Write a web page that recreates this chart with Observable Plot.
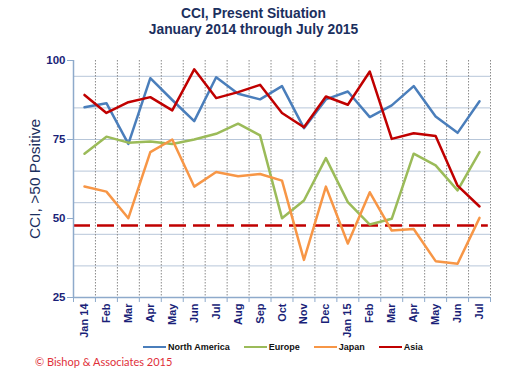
<!DOCTYPE html>
<html><head><meta charset="utf-8">
<script src="https://cdn.jsdelivr.net/npm/d3@7"></script>
<script src="https://cdn.jsdelivr.net/npm/@observablehq/plot@0.6"></script>
<style>
body{margin:0;background:#fff;width:507px;height:370px;overflow:hidden;font-family:"Liberation Sans",Arial,sans-serif}
#title{height:42px;text-align:center;color:#1b2f5e;font-weight:bold;font-size:13.8px;line-height:16px;padding-top:6px;box-sizing:border-box}
#chart svg{display:block}
#legend{height:14px;padding-left:143px;display:flex;justify-content:flex-start;align-items:center;gap:14px;font-weight:bold;font-size:9px;color:#111}
#legend .it{display:flex;align-items:center;gap:2px}
#legend .sw{display:inline-block;width:23px;height:2.5px}
#caption{height:16px;padding-left:35px;color:#e0303a;font-family:Lato,sans-serif;font-size:11px;line-height:16px}
</style></head>
<body>
<div id="title">CCI, Present Situation<br>January 2014 through July 2015</div>
<div id="chart"></div>
<div id="legend"></div>
<div id="caption">© Bishop &amp; Associates 2015</div>
<script>
const months = ["Jan 14","Feb","Mar","Apr","May","Jun","Jul","Aug","Sep","Oct","Nov","Dec","Jan 15","Feb","Mar","Apr","May","Jun","Jul"];
const seriesNames = ["North America","Europe","Japan","Asia"];
const seriesColors = ["#4a7ebb","#9bbb59","#f79646","#c00000"];
const northAmerica = [85.2,86.5,73.6,94.4,87.5,80.8,94.7,89.5,87.7,91.9,78.6,87.7,90.2,82.1,85.8,91.9,82.3,77.1,87.1];
const europe = [70.5,75.9,74.0,74.4,73.6,75.0,76.8,80.0,76.3,50.1,55.7,69.1,55.2,48.1,49.9,70.5,66.8,58.9,71.0];
const japan = [60.1,58.5,50.1,71.0,75.0,60.1,64.7,63.4,64.1,62.0,36.9,60.1,42.1,58.3,46.2,46.7,36.5,35.7,50.2];
const asia = [89.1,83.4,86.8,88.4,84.2,97.2,88.1,90.0,92.3,83.4,78.9,88.6,86.0,96.5,75.2,77.0,76.1,60.4,53.8];
const threshold = 47.8;
const yTicks = [25,50,75,100];
const yGrid = [35,45,55,65,75,85,95];
const yTitle = "CCI, >50 Positive";

const seriesValues = [northAmerica, europe, japan, asia];
const rows = [];
seriesNames.forEach((name, k) => seriesValues[k].forEach((v, i) => rows.push({name, i, v})));
const n = months.length;
const boundaries = d3.range(0.5, n, 1);
const axisCol = "#8eaacb";
const textCol = "#1a1f78";

const chart = Plot.plot({
  width: 507, height: 298,
  marginLeft: 73, marginRight: 17, marginTop: 18, marginBottom: 43,
  x: {type: "linear", domain: [-0.5, n - 0.5]},
  y: {domain: [25, 100]},
  color: {domain: seriesNames, range: seriesColors},
  style: {fontFamily: "'Liberation Sans', Arial, sans-serif", background: "white", overflow: "visible"},
  marks: [
    Plot.ruleY(yGrid, {stroke: "#b7c6d9", strokeWidth: 1}),
    Plot.ruleX(boundaries, {stroke: "#8a8a8a", strokeWidth: 1, strokeDasharray: "1.5,1.5"}),
    Plot.ruleY([threshold], {x1: -0.5, x2: n - 0.6, stroke: "#c00000", strokeWidth: 2.5, strokeDasharray: "17,7"}),
    Plot.lineY(rows, {x: "i", y: "v", z: "name", stroke: "name", strokeWidth: 2.5, strokeLinejoin: "round"}),
    Plot.ruleX([-0.5], {stroke: axisCol, strokeWidth: 1.5}),
    Plot.ruleY([25], {stroke: axisCol, strokeWidth: 1.5}),
    Plot.axisY({ticks: yTicks, tickSize: 6, tickPadding: 2, stroke: axisCol, fill: textCol, fontWeight: "bold", fontSize: 11.5, label: null}),
    Plot.axisX({ticks: [-0.5, ...boundaries], tickSize: 5, tickFormat: () => "", stroke: axisCol, label: null}),
    Plot.axisX({ticks: d3.range(n), tickSize: 0, tickPadding: 6, tickRotate: -90, tickFormat: i => months[i], fill: textCol, fontWeight: "bold", fontSize: 11, label: null}),
    Plot.text([yTitle], {text: d => d, frameAnchor: "left", textAnchor: "middle", rotate: -90, dx: -38, fontSize: 15.5, fill: "#1b2f5e"})
  ]
});
document.getElementById("chart").appendChild(chart);

const legend = document.getElementById("legend");
seriesNames.forEach((name, k) => {
  const it = document.createElement("span");
  it.className = "it";
  const sw = document.createElement("span");
  sw.className = "sw";
  sw.style.background = seriesColors[k];
  it.appendChild(sw);
  it.appendChild(document.createTextNode(name));
  legend.appendChild(it);
});
</script>
</body></html>
